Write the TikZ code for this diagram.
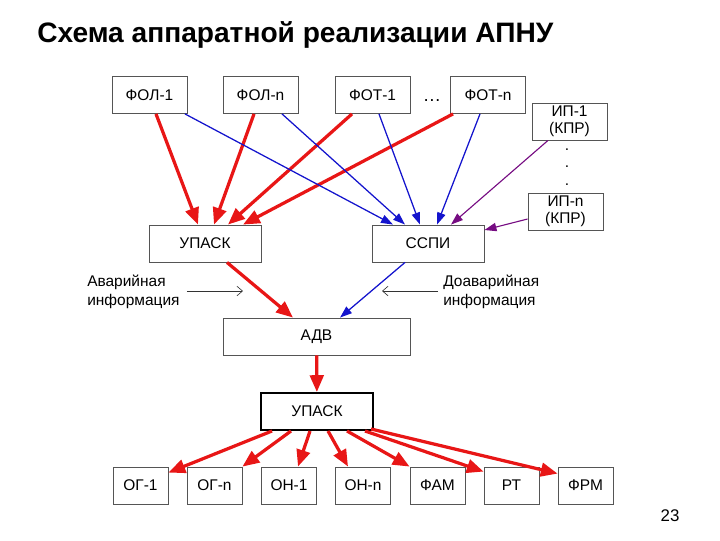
\documentclass[tikz,border=0pt]{standalone}
\usepackage{fontspec}
\setmainfont{Liberation Sans}
\usetikzlibrary{arrows.meta,calc}
\definecolor{flowRed}{RGB}{232,22,22}
\definecolor{flowBlue}{RGB}{20,20,205}
\definecolor{flowPurple}{RGB}{118,12,130}
\definecolor{unitGray}{RGB}{85,85,85}

\begin{document}
\begin{tikzpicture}[
  x=0.025cm, y=-0.025cm,
  every node/.style={font=\fontsize{11}{12}\selectfont},
  unit/.style={draw=unitGray,fill=white,line width=0.6pt,minimum width=#1,minimum height=0.925cm,inner sep=0pt,align=center},
  unit/.default=1.875cm,
  title/.style={font=\fontsize{20}{24}\selectfont\bfseries,anchor=base west,inner sep=0pt},
  note/.style={font=\fontsize{11}{13.5}\selectfont,align=left,inner sep=0pt},
  redflow/.style={-{Triangle[length=4.2mm,width=3.4mm]},line width=2.3pt,draw=flowRed,fill=flowRed},
  blueflow/.style={-{Triangle[length=3mm,width=2.1mm]},line width=0.9pt,draw=flowBlue},
  purpleflow/.style={-{Triangle[length=3mm,width=2.1mm]},line width=0.8pt,draw=flowPurple},
  pointer/.style={-{Straight Barb[length=1.4mm,width=2.4mm]},line width=0.45pt,draw=black!80}
]
  \useasboundingbox (0,0) rectangle (720,540);

  \node[title] (ttl) at (37,42) {Схема аппаратной реализации АПНУ};

  % sources
  \node[unit] (fol1) at (149.5,95) {ФОЛ-1};
  \node[unit] (foln) at (260.5,95) {ФОЛ-n};
  \node[unit] (fot1) at (372.5,95) {ФОТ-1};
  \node[unit] (fotn) at (488,95) {ФОТ-n};
  \node[font=\fontsize{13}{13}\selectfont] (odots) at (432,101) {\ldots};
  \node[unit] (ip1) at (569.5,121.5) {ИП-1\\(КПР)};
  \node[unit] (ipn) at (565.5,211.5) {ИП-n\\(КПР)};
  \node[font=\fontsize{11}{12.4}\selectfont,align=center,inner sep=0pt] (vdots) at (567,167) {.\\.\\.};

  % processing
  \node[unit=2.8cm] (upaskA) at (205,243.5) {УПАСК};
  \node[unit=2.8cm] (sspi) at (428,243.5) {ССПИ};
  \node[unit=4.675cm] (adv) at (316.5,336.5) {АДВ};
  \node[unit=2.8cm,draw=black,line width=1.4pt] (upaskB) at (317,411.5) {УПАСК};

  % outputs
  \node[unit=1.375cm] (og1) at (140.5,485.5) {ОГ-1};
  \node[unit=1.375cm] (ogn) at (214.5,485.5) {ОГ-n};
  \node[unit=1.375cm] (on1) at (289,485.5) {ОН-1};
  \node[unit=1.375cm] (onn) at (363,485.5) {ОН-n};
  \node[unit=1.375cm] (fam) at (437.5,485.5) {ФАМ};
  \node[unit=1.375cm] (rt) at (511.5,485.5) {РТ};
  \node[unit=1.375cm] (frm) at (585.5,485.5) {ФРМ};

  % emergency flow
  \draw[redflow] ($(fol1.south)+(6.5,0)$) -- ($(upaskA.north)+(-7,0)$);
  \draw[redflow] ($(foln.south)+(-6.5,0)$) -- ($(upaskA.north)+(9,0)$);
  \draw[redflow] ($(fot1.south)+(-20.5,0)$) -- ($(upaskA.north)+(23,0)$);
  \draw[redflow] ($(fotn.south)+(-35,0)$) -- ($(upaskA.north)+(38,0)$);

  % pre-emergency flow
  \draw[blueflow] ($(fol1.south)+(35.5,0)$) -- ($(sspi.north)+(-35,0)$);
  \draw[blueflow] ($(foln.south)+(21.5,0)$) -- ($(sspi.north)+(-23,0)$);
  \draw[blueflow] ($(fot1.south)+(6.5,0)$) -- ($(sspi.north)+(-8,0)$);
  \draw[blueflow] ($(fotn.south)+(-8,0)$) -- ($(sspi.north)+(9,0)$);
  \draw[purpleflow] ($(ip1.south)+(-21.5,0)$) -- ($(sspi.north)+(23,0)$);
  \draw[purpleflow] ($(ipn.west)+(0,7.5)$) -- ($(sspi.east)+(0,-13.5)$);

  \draw[redflow] ($(upaskA.south)+(22,0)$) -- ($(adv.north)+(-23.5,0)$);
  \draw[blueflow] ($(sspi.south)+(-23,0)$) -- ($(adv.north)+(23.5,0)$);
  \draw[redflow] (adv) -- (upaskB);

  \node[note,anchor=west] (lblA) at (87,292) {Аварийная\\информация};
  \coordinate (tipA) at (243,291);
  \draw[pointer] ($(lblA.east)+(7,-1)$) -- (tipA);
  \node[note,anchor=west] (lblD) at (443,292) {Доаварийная\\информация};
  \coordinate (tipD) at (382,291);
  \draw[pointer] ($(lblD.west)+(-5,-1)$) -- (tipD);

  % fan-out
  \draw[redflow] ($(upaskB.south)+(-45,0)$) -- ($(og1.north east)+(0,6)$);
  \draw[redflow] ($(upaskB.south)+(-26,0)$) -- (ogn.north east);
  \draw[redflow] ($(upaskB.south)+(-7,0)$) -- ($(on1.north)+(9,0)$);
  \draw[redflow] ($(upaskB.south)+(11,0)$) -- ($(onn.north)+(-15,0)$);
  \draw[redflow] ($(upaskB.south)+(30,0)$) -- (fam.north west);
  \draw[redflow] ($(upaskB.south)+(48,0)$) -- ($(rt.north west)+(0,5)$);
  \draw[redflow] ($(upaskB.south east)+(-3,-2)$) -- ($(frm.north west)+(0,7)$);

  \node[font=\fontsize{12}{14}\selectfont] (pg) at (670,516) {23};
\end{tikzpicture}
\end{document}
